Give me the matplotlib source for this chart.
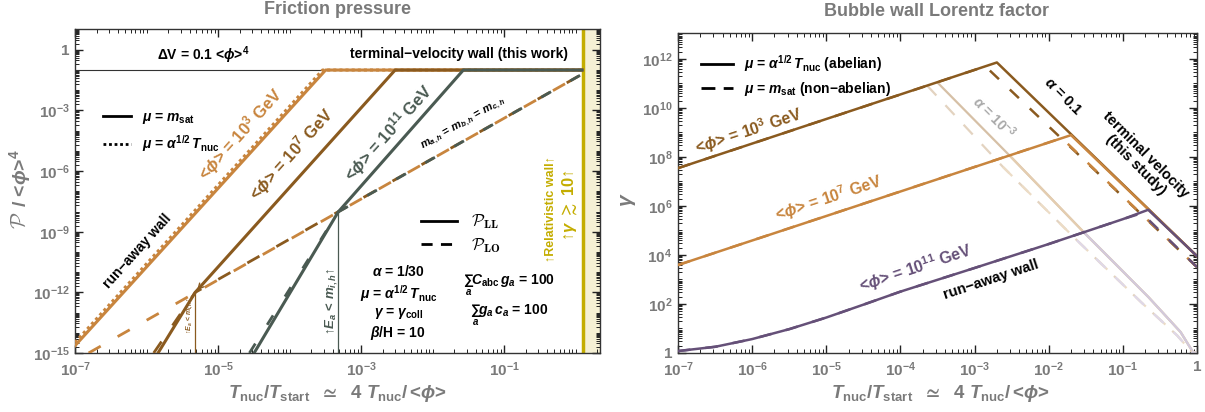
import numpy as np
import matplotlib
matplotlib.use('Agg')
import matplotlib.pyplot as plt
from matplotlib.ticker import FixedLocator, LogLocator, FuncFormatter, NullFormatter
from matplotlib.lines import Line2D

plt.rcParams['font.family'] = ['Liberation Sans', 'DejaVu Sans']
plt.rcParams['font.weight'] = 'bold'
plt.rcParams['mathtext.fontset'] = 'custom'
plt.rcParams['mathtext.rm'] = 'Liberation Sans:bold'
plt.rcParams['mathtext.it'] = 'Liberation Sans:italic:bold'
plt.rcParams['mathtext.bf'] = 'Liberation Sans:bold'
plt.rcParams['mathtext.fallback'] = 'stix'

# ---------------- data: friction pressure (left) ----------------
# terminal-velocity plateau  P = 0.1 <phi>^4
plateau_x = [1e-7, 1.23]
plateau_y = [0.1, 0.1]
# P_LL, mu = m_sat
ll_1e3_x = [1e-7, 3.2e-4, 1.23]
ll_1e3_y = [2.3e-15, 0.1, 0.1]
ll_1e7_x = [1.45e-6, 4.8e-6, 3.0e-3, 1.23]
ll_1e7_y = [1e-15, 1.0e-12, 0.1, 0.1]
ll_1e11_x = [3.2e-5, 4.8e-4, 2.7e-2, 1.23]
ll_1e11_y = [1e-15, 9.5e-9, 0.1, 0.1]
# P_LL, mu = alpha^1/2 T_nuc
llt_1e3_x = [1e-7, 2.9e-4, 1.23]
llt_1e3_y = [3.3e-15, 0.1, 0.1]
# P_LO
lo_1e3_x = [1.55e-7, 1.16]
lo_1e3_y = [1e-15, 0.055]
lo_1e7_x = [1.26e-6, 4.8e-6, 1.16]
lo_1e7_y = [1e-15, 1.0e-12, 0.055]
lo_1e11_x = [2.75e-5, 4.8e-4, 1.16]
lo_1e11_y = [1e-15, 9.5e-9, 0.055]
# E_a < m_i,h thresholds
ea_1e7_x = [4.8e-6, 4.8e-6]
ea_1e7_y = [1e-15, 1.0e-12]
ea_1e11_x = [4.8e-4, 4.8e-4]
ea_1e11_y = [1e-15, 9.5e-9]
# relativistic-wall band (gamma >~ 10)
band_x = [1.27, 2.2]

# ---------------- data: Lorentz factor (right) ----------------
g_1e3_x = [1e-7, 2.0e-3, 1.0]
g_1e3_y = [3.5e7, 7.2e11, 9.0e3]
g_1e7_x = [1e-7, 2.0e-2, 1.0]
g_1e7_y = [3.9e3, 7.8e8, 9.0e3]
g_1e11_x = [1e-7, 3.2e-7, 1e-6, 3.2e-6, 1e-5, 3.2e-5, 1e-4, 1e-3, 1e-2, 1e-1, 0.22, 1.0]
g_1e11_y = [1.2, 1.8, 3.7, 9.5, 28, 95, 320, 2.95e3, 2.8e4, 2.9e5, 7.0e5, 9.0e3]
# non-abelian (mu = m_sat)
gn_1e3_x = [1e-7, 1.4e-3, 1.0]
gn_1e3_y = [3.5e7, 5.0e11, 3.2e3]
gn_1e7_x = [1e-7, 1.5e-2, 1.0]
gn_1e7_y = [3.9e3, 5.9e8, 3.2e3]
gn_1e11_x = [1e-7, 3.2e-7, 1e-6, 3.2e-6, 1e-5, 3.2e-5, 1e-4, 1e-3, 1e-2, 1e-1, 0.18, 1.0]
gn_1e11_y = [1.2, 1.8, 3.7, 9.5, 28, 95, 320, 2.95e3, 2.8e4, 2.9e5, 5.1e5, 3.2e3]
# alpha = 1e-3 terminal curves
a3_x = [3.2e-4, 3.1e-3, 2.95e-2, 0.22, 0.60, 0.88, 0.99]
a3_y = [1.05e11, 1.0e8, 8.7e4, 195, 7.2, 1.1, 1.0]
a3n_x = [2.3e-4, 2.4e-3, 2.4e-2, 0.18, 0.54, 0.86, 0.99]
a3n_y = [8.1e10, 4.0e7, 4.0e4, 112, 5.2, 1.05, 1.0]

c_orange = '#c8853e'
c_brown = '#8a5a1f'
c_green = '#4a5a52'
c_purple = '#655078'
c_gray = '#7a7a7a'
c_yel = '#c4ad00'

fig = plt.figure(figsize=(12.05, 4.12), dpi=100)
ax1 = fig.add_axes([75/1205, 59/412, 525/1205, 324/412])
ax2 = fig.add_axes([678/1205, 59/412, 519/1205, 320/412])


def dec_fmt(labeled):
    def f(v, pos):
        e = int(round(np.log10(v)))
        if e not in labeled:
            return ''
        return '1' if e == 0 else r'$10^{%d}$' % e
    return FuncFormatter(f)


def style(ax, xlab, ylab):
    ax.set_xscale('log')
    ax.set_yscale('log')
    ax.xaxis.set_major_locator(FixedLocator([10.0**e for e in xlab]))
    ax.yaxis.set_major_locator(FixedLocator([10.0**e for e in ylab]))
    ax.xaxis.set_major_formatter(dec_fmt(xlab))
    ax.yaxis.set_major_formatter(dec_fmt(ylab))
    for a in (ax.xaxis, ax.yaxis):
        a.set_minor_locator(LogLocator(base=10, subs=np.arange(1, 10), numticks=200))
        a.set_minor_formatter(NullFormatter())
    ax.tick_params(which='both', direction='in', top=True, right=True,
                   color='#222222', labelcolor=c_gray, labelsize=11)
    ax.tick_params(which='major', length=6, width=1.0, pad=4)
    ax.tick_params(axis='x', which='major', pad=5)
    ax.tick_params(which='minor', length=3, width=0.7)
    for s in ax.spines.values():
        s.set_color('#333333')
        s.set_linewidth(1.0)


# ======================= left panel =======================
ax = ax1
ax.axvspan(band_x[0], band_x[1], color='#f5f0d4', lw=0, zorder=0)
ax.axvline(band_x[0], color=c_yel, lw=2.5, zorder=1)
ax.plot(plateau_x, plateau_y, color='#333333', lw=0.8, zorder=2)

ax.plot(ea_1e7_x, ea_1e7_y, color=c_brown, lw=0.9, zorder=2)
ax.plot(ea_1e11_x, ea_1e11_y, color=c_green, lw=0.9, zorder=2)

ax.plot(lo_1e3_x, lo_1e3_y, color=c_orange, lw=2, dashes=(5, 7), zorder=3)
ax.plot(lo_1e7_x, lo_1e7_y, color=c_brown, lw=2, dashes=(5, 7), zorder=3)
ax.plot(lo_1e11_x, lo_1e11_y, color=c_green, lw=2, dashes=(4, 8), zorder=3)

ax.plot(ll_1e3_x, ll_1e3_y, color=c_orange, lw=2.2, zorder=4)
ax.plot(llt_1e3_x, llt_1e3_y, color=c_orange, lw=2.2, ls=(0, (1, 1)), zorder=4)
ax.plot(ll_1e7_x, ll_1e7_y, color=c_brown, lw=2.2, zorder=5)
ax.plot(ll_1e11_x, ll_1e11_y, color=c_green, lw=2.2, zorder=6)
ax.annotate('', xy=(ea_1e7_x[1], ea_1e7_y[1]), xytext=(7.5e-6, 6e-12),
            arrowprops=dict(arrowstyle='->', color=c_brown, lw=1.0), zorder=6)

ax.set_xlim(1e-7, 2.2)
ax.set_ylim(1e-15, 10**1.03)
style(ax, [-7, -5, -3, -1], [-15, -12, -9, -6, -3, 0])

ax.text(10**-5.21, 10**-0.25, r'$\Delta$V = 0.1 <$\phi$>$^4$', ha='center', va='center', fontsize=10)
ax.text(10**-0.105, 10**-0.2, 'terminal−velocity wall (this work)', ha='right', va='center', fontsize=10)
ax.text(10**-4.69, 10**-4.19, r'<$\phi$> = 10$^3$ GeV', color=c_orange, fontsize=12,
        rotation=48, ha='center', va='center', rotation_mode='anchor')
ax.text(10**-3.97, 10**-5.17, r'<$\phi$> = 10$^7$ GeV', color=c_brown, fontsize=12,
        rotation=48, ha='center', va='center', rotation_mode='anchor')
ax.text(10**-2.62, 10**-4.09, r'<$\phi$> = 10$^{11}$ GeV', color=c_green, fontsize=12,
        rotation=48, ha='center', va='center', rotation_mode='anchor')
ax.text(10**-1.57, 10**-3.69, r'$m_{a,h}$ = $m_{b,h}$ = $m_{c,h}$', fontsize=8,
        rotation=29.5, ha='center', va='center', rotation_mode='anchor')
ax.text(10**-6.13, 10**-9.95, 'run−away wall', fontsize=10,
        rotation=48, ha='center', va='center', rotation_mode='anchor')
ax.text(10**-5.39, 10**-13.15, r'↑$E_a$ < $m_{i,h}$↑', color=c_brown, fontsize=5,
        rotation=90, ha='center', va='center')
ax.text(10**-3.41, 10**-12.46, r'↑$E_a$ < $m_{i,h}$↑', color=c_green, fontsize=9.5,
        rotation=90, ha='center', va='center')
for yy, s in zip([-10.99, -12.07, -13.05, -13.99],
                 [r'$\alpha$ = 1/30', r'$\mu$ = $\alpha^{1/2}\,T_{\rm nuc}$',
                  r'$\gamma$ = $\gamma_{\rm coll}$', r'$\beta$/H = 10']):
    ax.text(10**-2.48, 10**yy, s, ha='center', va='center', fontsize=10)
ax.text(10**-1.57, 10**-11.67, r'$\sum_a C_{\rm abc}\,g_a$ = 100', ha='left', va='center', fontsize=10)
ax.text(10**-1.48, 10**-13.15, r'$\sum_a g_a\,c_a$ = 100', ha='left', va='center', fontsize=10)
ax.text(10**-0.357, 10**-7.88, '↑Relativistic wall↑', color=c_yel, fontsize=9,
        rotation=90, ha='center', va='center')
ax.text(10**-0.077, 10**-7.7, r'↑$\gamma$ $\gtrsim$ 10↑', color=c_yel, fontsize=12,
        rotation=90, ha='center', va='center')

leg1 = ax.legend(handles=[Line2D([], [], color='k', lw=2),
                          Line2D([], [], color='k', lw=2, ls=(0, (1, 1)))],
                 labels=[r'$\mu$ = $m_{\rm sat}$', r'$\mu$ = $\alpha^{1/2}\,T_{\rm nuc}$'],
                 loc='upper left', bbox_to_anchor=(0.03, 0.79), frameon=False,
                 fontsize=10, handlelength=2.0, labelspacing=0.55)
ax.add_artist(leg1)
ax.legend(handles=[Line2D([], [], color='k', lw=2),
                   Line2D([], [], color='k', lw=2, dashes=(4, 3))],
          labels=[r'$\mathcal{P}_{\mathbf{LL}}$', r'$\mathcal{P}_{\mathbf{LO}}$'],
          prop=dict(size=12, weight='bold', math_fontfamily='cm'),
          loc='upper left', bbox_to_anchor=(0.63, 0.48), frameon=False,
          handlelength=2.2, labelspacing=0.3)

# ======================= right panel =======================
ax = ax2
lw = 1.8
for xs, ys, c in [(a3_x, a3_y, '#d6c0a6'), (a3_x[1:], a3_y[1:], '#e4cdb0'), (a3_x[2:], a3_y[2:], '#d2c9dc')]:
    ax.plot(xs, ys, color=c, lw=1.6, zorder=2)
for xs, ys, c in [(a3n_x, a3n_y, '#e3d3c0'), (a3n_x[1:], a3n_y[1:], '#ecdcc6'), (a3n_x[2:], a3n_y[2:], '#dfd8e8')]:
    ax.plot(xs, ys, color=c, lw=1.6, dashes=(6, 6), zorder=2)

ax.plot(gn_1e3_x, gn_1e3_y, color=c_brown, lw=lw, dashes=(5, 6), zorder=3)
ax.plot(gn_1e7_x, gn_1e7_y, color=c_orange, lw=lw, dashes=(5, 6), zorder=3)
ax.plot(gn_1e11_x, gn_1e11_y, color=c_purple, lw=lw, dashes=(5, 6), zorder=3)
ax.plot(g_1e3_x, g_1e3_y, color=c_brown, lw=lw, zorder=4)
ax.plot(g_1e7_x, g_1e7_y, color=c_orange, lw=lw, zorder=5)
ax.plot(g_1e11_x, g_1e11_y, color=c_purple, lw=lw, zorder=6)

ax.set_xlim(1e-7, 1)
ax.set_ylim(1, 10**13.06)
style(ax, [-7, -6, -5, -4, -3, -2, -1, 0], [0, 2, 4, 6, 8, 10, 12])

ax.text(10**-6.05, 10**9.06, r'<$\phi$> = 10$^3$ GeV', color=c_brown, fontsize=11.5,
        rotation=18.3, ha='center', va='center', rotation_mode='anchor')
ax.text(10**-4.97, 10**6.33, r'<$\phi$> = 10$^7$ GeV', color=c_orange, fontsize=11.5,
        rotation=18.3, ha='center', va='center', rotation_mode='anchor')
ax.text(10**-3.80, 10**3.47, r'<$\phi$> = 10$^{11}$ GeV', color=c_purple, fontsize=11.5,
        rotation=18.3, ha='center', va='center', rotation_mode='anchor')
ax.text(10**-2.78, 10**2.98, 'run−away wall', fontsize=10.5,
        rotation=18.3, ha='center', va='center', rotation_mode='anchor')
ax.text(10**-1.81, 10**10.45, r'$\alpha$ = 0.1', fontsize=10.5,
        rotation=-45, ha='center', va='center', rotation_mode='anchor')
ax.text(10**-2.74, 10**9.63, r'$\alpha$ = 10$^{-3}$', fontsize=10, color='#a8a8a8',
        rotation=-45, ha='center', va='center', rotation_mode='anchor')
ax.text(10**-0.76, 10**7.88, 'terminal velocity\n(this study)', fontsize=10.5,
        rotation=-45, ha='center', va='center', rotation_mode='anchor', linespacing=1.1)
ax.legend(handles=[Line2D([], [], color='k', lw=2),
                   Line2D([], [], color='k', lw=2, dashes=(5, 3))],
          labels=[r'$\mu$ = $\alpha^{1/2}\,T_{\rm nuc}$ (abelian)', r'$\mu$ = $m_{\rm sat}$ (non−abelian)'],
          loc='upper left', bbox_to_anchor=(0.02, 0.975), frameon=False,
          fontsize=10, handlelength=2.3, labelspacing=0.4)

# ======================= labels =======================
fig.text(337/1205, 1 - 10/412, 'Friction pressure', color=c_gray, fontsize=13, ha='center', va='center')
fig.text(937/1205, 1 - 11/412, 'Bubble wall Lorentz factor', color=c_gray, fontsize=13, ha='center', va='center')
xl = r'$T_{\rm nuc}/T_{\rm start}$  $\simeq$  4 $T_{\rm nuc}/\,$<$\phi$>'
fig.text(337/1205, 1 - 393/412, xl, color=c_gray, fontsize=13.5, ha='center', va='center')
fig.text(940/1205, 1 - 393/412, xl, color=c_gray, fontsize=13.5, ha='center', va='center')
fig.text(20/1205, 1 - 220/412, r'$\mathcal{P}$', color=c_gray, fontsize=15,
         rotation=90, ha='center', va='center', math_fontfamily='cm')
fig.text(20/1205, 1 - 178/412, r'/ <$\phi$>$^4$', color=c_gray, fontsize=14,
         rotation=90, ha='center', va='center')
fig.text(628/1205, 1 - 200/412, r'$\gamma$', color=c_gray, fontsize=15,
         rotation=90, ha='center', va='center')

fig.savefig('out.png', dpi=100)
